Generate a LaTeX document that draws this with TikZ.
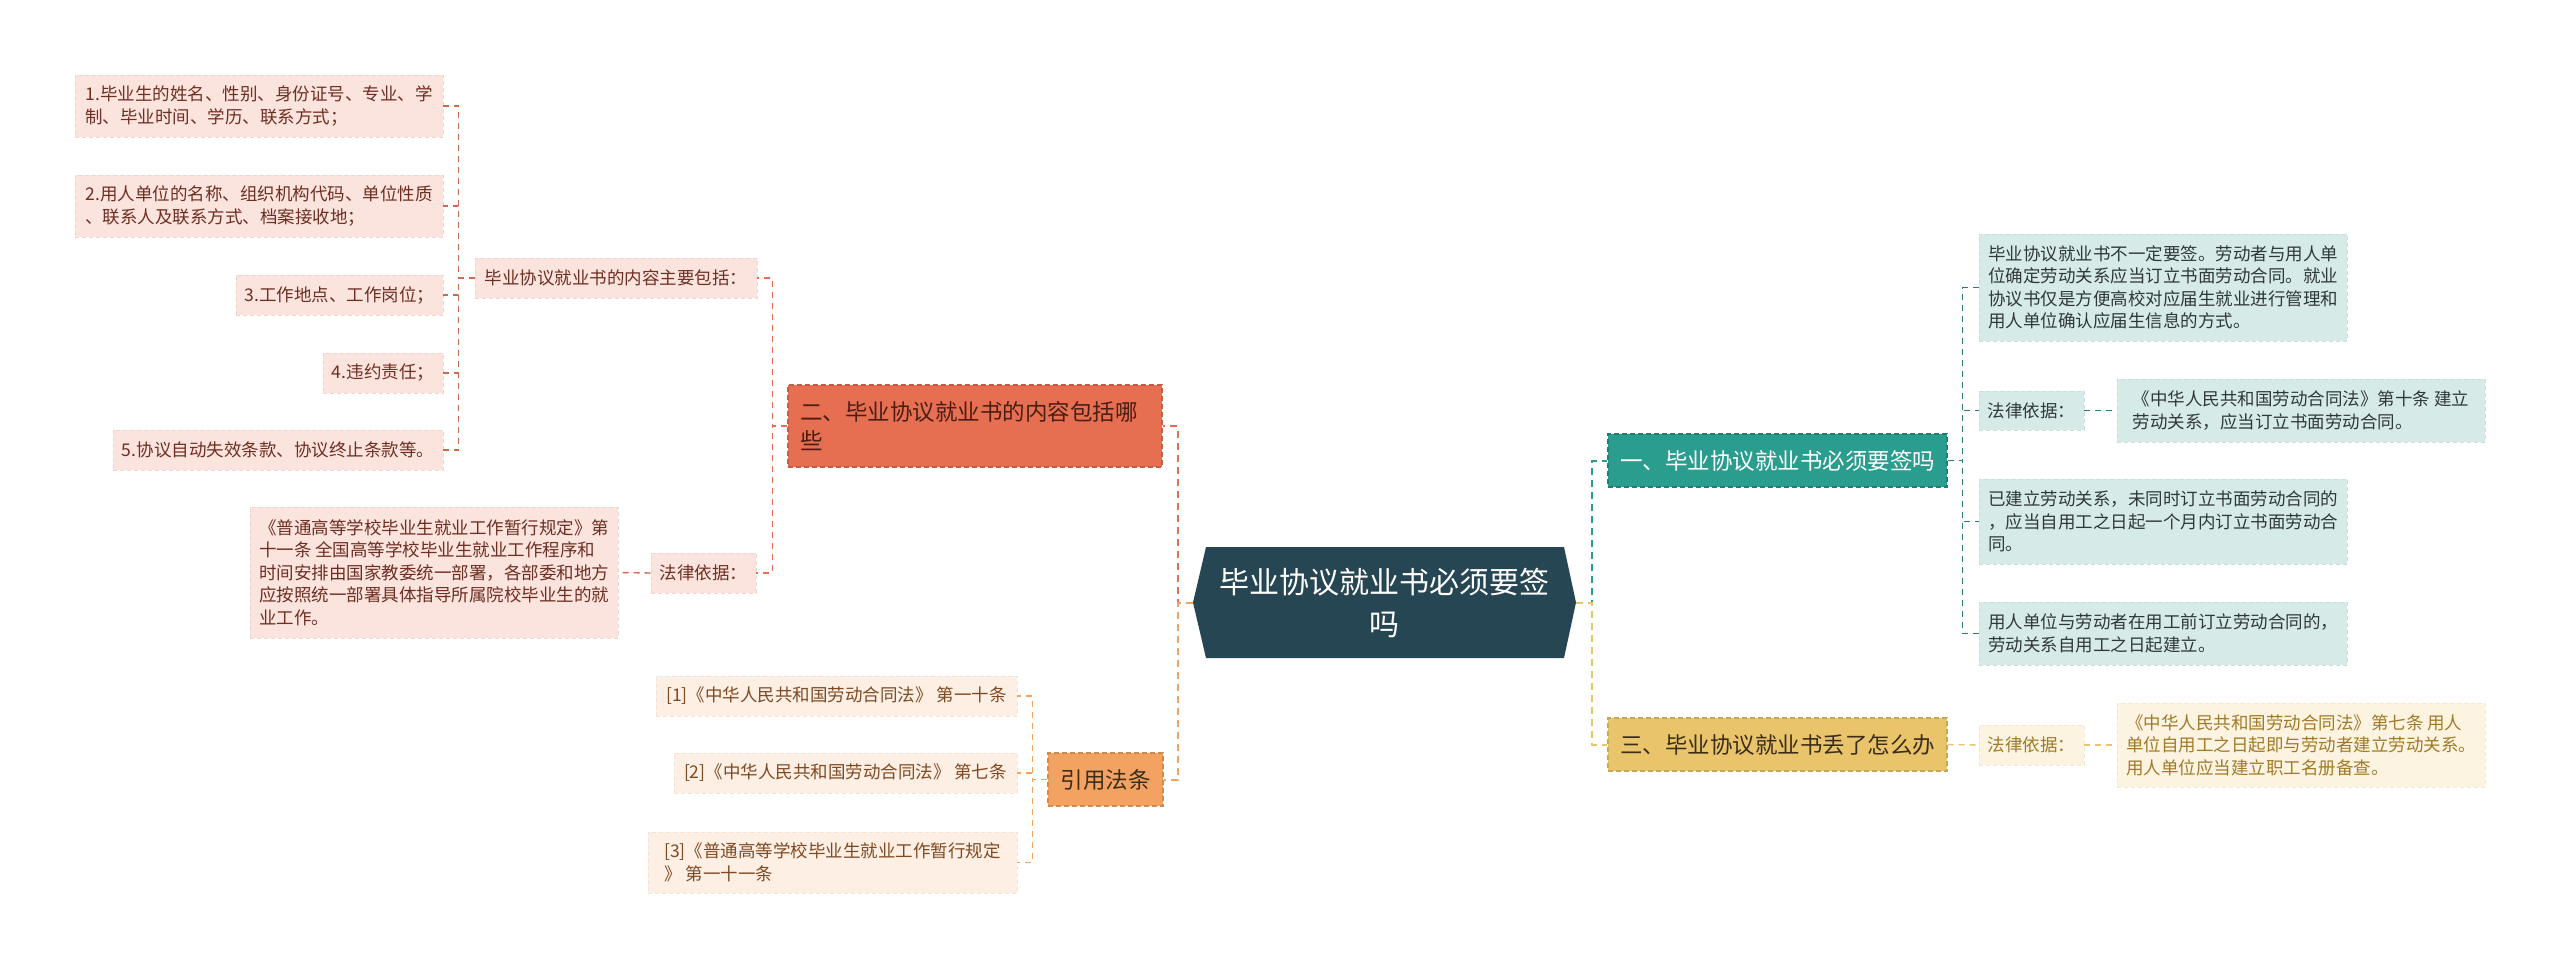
\documentclass[tikz,border=0pt]{standalone}
\usepackage{fontspec}
\setmainfont{Noto Sans CJK SC}
\usetikzlibrary{calc}
\definecolor{rootc}{HTML}{264653}
\definecolor{tealc}{HTML}{2A9D8F}
\definecolor{yelc}{HTML}{E9C46A}
\definecolor{redc}{HTML}{E76F51}
\definecolor{orac}{HTML}{F4A261}
\definecolor{pinkf}{HTML}{FBE4DD}
\definecolor{tealf}{HTML}{D6EBE8}
\definecolor{creamf}{HTML}{FCF4E1}
\definecolor{peachf}{HTML}{FDEFE4}
\definecolor{pinkt}{HTML}{6E2E22}
\definecolor{tealt}{HTML}{2F3838}
\definecolor{creamt}{HTML}{A07A28}
\definecolor{peacht}{HTML}{7E4A22}
\definecolor{b2t}{HTML}{4A1E14}
\definecolor{darkt}{HTML}{3A2E1A}
\definecolor{redl}{HTML}{C96A52}
\definecolor{teall}{HTML}{2A7F70}
\begin{document}
\begin{tikzpicture}[x=1pt,y=-1pt,
  base/.style={rectangle, inner sep=0pt, align=left},
  leaffont/.style={font=\fontsize{17.5}{22.5}\selectfont},
  mainfont/.style={font=\fontsize{22.5}{29}\selectfont},
  pinkleaf/.style={base, leaffont, fill=pinkf, text=pinkt, draw=pinkf!94!black, dash pattern=on 4pt off 3pt, line width=0.8pt},
  tealleaf/.style={base, leaffont, fill=tealf, text=tealt, draw=tealf!94!black, dash pattern=on 4pt off 3pt, line width=0.8pt},
  creamleaf/.style={base, leaffont, fill=creamf, text=creamt, draw=creamf!95!black, dash pattern=on 4pt off 3pt, line width=0.8pt},
  peachleaf/.style={base, leaffont, fill=peachf, text=peacht, draw=peachf!95!black, dash pattern=on 4pt off 3pt, line width=0.8pt},
  mainbox/.style={base, mainfont, dash pattern=on 5pt off 3pt, line width=1.2pt},
  rootbox/.style={rectangle, inner sep=0pt, align=center, text=white,
    font=\fontsize{30}{42}\selectfont,
    path picture={\fill[rootc] ([xshift=13pt]path picture bounding box.north west) -- ([xshift=-12pt]path picture bounding box.north east) -- (path picture bounding box.east) -- ([xshift=-12pt]path picture bounding box.south east) -- ([xshift=13pt]path picture bounding box.south west) -- (path picture bounding box.west) -- cycle;}},
  lnmain/.style={dash pattern=on 7pt off 5pt, line width=2pt},
  lnsub/.style={dash pattern=on 6pt off 5pt, line width=1.4pt}
]
\useasboundingbox (0,0) rectangle (2560,969);
\fill[white] (0,0) rectangle (2560,969);

% root
\node[rootbox, minimum width=383, minimum height=111] (root) at (1384.5,602.5) {毕业协议就业书必须要签\\吗};

% main branches
\node[mainbox, fill=tealc, draw=tealc!80!black, text=white, minimum width=339, minimum height=53] (b1) at (1777.5,460.5) {一、毕业协议就业书必须要签吗};
\node[mainbox, fill=yelc, draw=yelc!85!black, text=darkt, minimum width=339, minimum height=53] (b3) at (1777.5,744.5) {三、毕业协议就业书丢了怎么办};
\node[mainbox, fill=redc, draw=redc!85!black, text=b2t, text width=350, inner xsep=12pt, minimum height=82] (b2) at (975,426) {二、毕业协议就业书的内容包括哪\\些};
\node[mainbox, fill=orac, draw=orac!85!black, text=darkt, minimum width=115, minimum height=53] (b4) at (1105.5,779.5) {引用法条};

% branch 2 children
\node[pinkleaf, minimum width=282, minimum height=40] (c21) at (616,278) {毕业协议就业书的内容主要包括：};
\node[pinkleaf, minimum width=105, minimum height=40] (c22) at (703.5,573) {法律依据：};
\node[pinkleaf, minimum width=368, minimum height=62] (l1) at (259,106) {1.毕业生的姓名、性别、身份证号、专业、学\\制、毕业时间、学历、联系方式；};
\node[pinkleaf, minimum width=368, minimum height=62] (l2) at (259,206) {2.用人单位的名称、组织机构代码、单位性质\\、联系人及联系方式、档案接收地；};
\node[pinkleaf, minimum width=207, minimum height=40] (l3) at (339.5,295) {3.工作地点、工作岗位；};
\node[pinkleaf, minimum width=120, minimum height=40] (l4) at (383,373) {4.违约责任；};
\node[pinkleaf, minimum width=330, minimum height=40] (l5) at (278,450) {5.协议自动失效条款、协议终止条款等。};
\node[pinkleaf, minimum width=368, minimum height=131] (l6) at (434,572.5) {《普通高等学校毕业生就业工作暂行规定》第\\十一条 全国高等学校毕业生就业工作程序和\\时间安排由国家教委统一部署，各部委和地方\\应按照统一部署具体指导所属院校毕业生的就\\业工作。};

% branch 4 children
\node[peachleaf, minimum width=361, minimum height=40] (r1) at (836.5,696) {[1]《中华人民共和国劳动合同法》 第一十条};
\node[peachleaf, minimum width=343, minimum height=40] (r2) at (845.5,773) {[2]《中华人民共和国劳动合同法》 第七条};
\node[peachleaf, minimum width=369, minimum height=61] (r3) at (832.5,862.5) {[3]《普通高等学校毕业生就业工作暂行规定\\》 第一十一条};

% branch 1 children
\node[tealleaf, minimum width=368, minimum height=107] (c11) at (2163,287.5) {毕业协议就业书不一定要签。劳动者与用人单\\位确定劳动关系应当订立书面劳动合同。就业\\协议书仅是方便高校对应届生就业进行管理和\\用人单位确认应届生信息的方式。};
\node[tealleaf, minimum width=105, minimum height=39] (c12) at (2031.5,410.5) {法律依据：};
\node[tealleaf, minimum width=368, minimum height=63] (c12l) at (2301,410.5) {《中华人民共和国劳动合同法》第十条 建立\\劳动关系，应当订立书面劳动合同。};
\node[tealleaf, minimum width=368, minimum height=85] (c13) at (2163,521.5) {已建立劳动关系，未同时订立书面劳动合同的\\，应当自用工之日起一个月内订立书面劳动合\\同。};
\node[tealleaf, minimum width=368, minimum height=63] (c14) at (2163,633.5) {用人单位与劳动者在用工前订立劳动合同的，\\劳动关系自用工之日起建立。};

% branch 3 children
\node[creamleaf, minimum width=105, minimum height=40] (c31) at (2031.5,745) {法律依据：};
\node[creamleaf, minimum width=368, minimum height=84] (c31l) at (2301,745) {《中华人民共和国劳动合同法》第七条 用人\\单位自用工之日起即与劳动者建立劳动关系。\\用人单位应当建立职工名册备查。};

% connectors: root to branches
\draw[lnmain, redc] (root.west) -- ++(-15,0) |- (b2.east);
\draw[lnmain, orac] (root.west) -- ++(-15,0) |- (b4.east);
\draw[lnmain, tealc] (root.east) -- ++(16,0) |- (b1.west);
\draw[lnmain, yelc] (root.east) -- ++(16,0) |- (b3.west);

% branch 2
\draw[lnsub, redc] (b2.west) -- ++(-15,0) |- (c21.east);
\draw[lnsub, redc] (b2.west) -- ++(-15,0) |- (c22.east);
\foreach \n in {l1,l2,l3,l4,l5}
  \draw[lnsub, redl] (c21.west) -- ++(-16,0) |- (\n.east);
\draw[lnsub, redl] (c22.west) -- (l6.east);

% branch 4
\foreach \n in {r1,r2,r3}
  \draw[lnsub, orac] (b4.west) -- ++(-15,0) |- (\n.east);

% branch 1
\foreach \n in {c11,c12,c13,c14}
  \draw[lnsub, teall] (b1.east) -- ++(15,0) |- (\n.west);
\draw[lnsub, teall] (c12.east) -- (c12l.west);

% branch 3
\draw[lnsub, yelc] (b3.east) -- (c31.west);
\draw[lnsub, yelc] (c31.east) -- (c31l.west);
\end{tikzpicture}
\end{document}
